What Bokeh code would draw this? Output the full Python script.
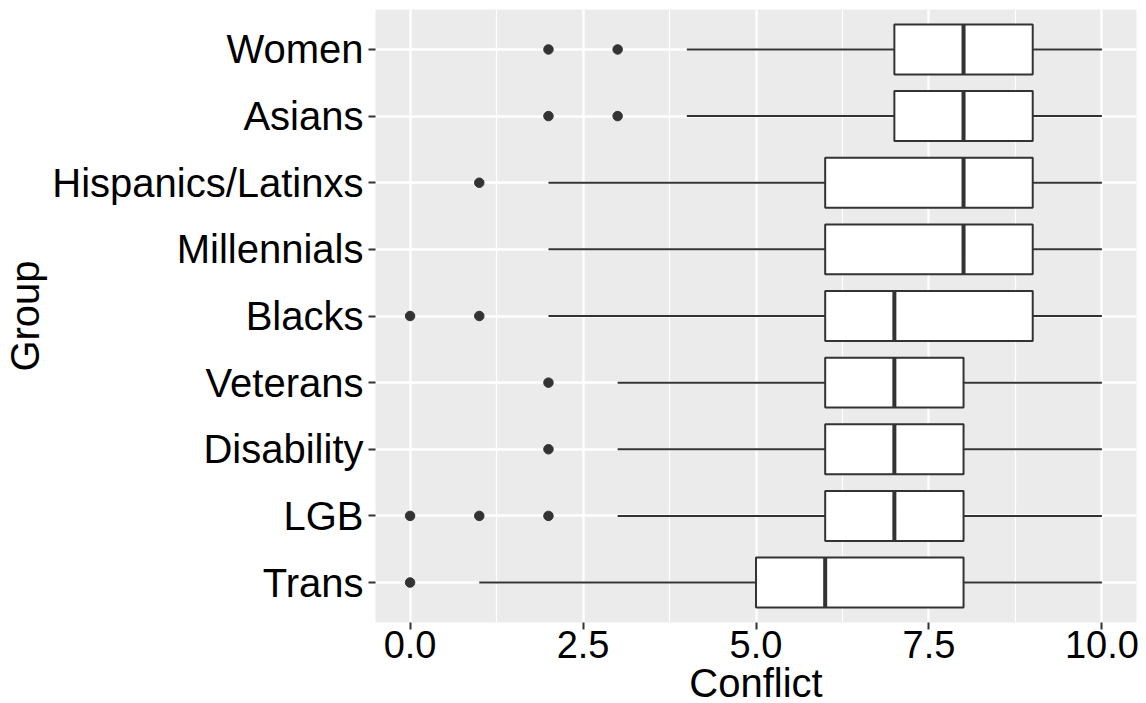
from bokeh.plotting import figure
from bokeh.models import FixedTicker, PrintfTickFormatter, Range1d
from bokeh.embed import file_html
from bokeh.resources import INLINE

# ---- data (top to bottom order of the reference) ----
groups = ["Women", "Asians", "Hispanics/Latinxs", "Millennials", "Blacks",
          "Veterans", "Disability", "LGB", "Trans"]
whisker_low = [4, 4, 2, 2, 2, 3, 3, 3, 1]
q1 = [7, 7, 6, 6, 6, 6, 6, 6, 5]
median = [8, 8, 8, 8, 7, 7, 7, 7, 6]
q3 = [9, 9, 9, 9, 9, 8, 8, 8, 8]
whisker_high = [10, 10, 10, 10, 10, 10, 10, 10, 10]
outlier_groups = ["Women", "Women", "Asians", "Asians", "Hispanics/Latinxs",
                  "Blacks", "Blacks", "Veterans", "Disability",
                  "LGB", "LGB", "LGB", "Trans"]
outlier_values = [2, 3, 2, 3, 1, 0, 1, 2, 2, 0, 1, 2, 0]
x_ticks = [0, 2.5, 5, 7.5, 10]
x_minor = [1.25, 3.75, 6.25, 8.75]

n = len(groups)
pos = {g: n - i for i, g in enumerate(groups)}  # Women on top
ys = [pos[g] for g in groups]
box_h = 0.75

FONT = "Liberation Sans"
DARK = "#333333"

p = figure(frame_width=761, frame_height=613,
           x_range=Range1d(-0.5, 10.5), y_range=Range1d(0.4, n + 0.6),
           output_backend="svg", toolbar_location=None,
           min_border_left=368, min_border_top=9, min_border_right=4,
           min_border_bottom=70)
p.background_fill_color = "#EBEBEB"
p.border_fill_color = "white"
p.outline_line_color = None

# grid
p.xgrid.ticker = FixedTicker(ticks=x_ticks, minor_ticks=x_minor)
p.xgrid.grid_line_color = "white"
p.xgrid.grid_line_width = 2.4
p.xgrid.minor_grid_line_color = "white"
p.xgrid.minor_grid_line_width = 1.2
p.ygrid.ticker = FixedTicker(ticks=ys)
p.ygrid.grid_line_color = "white"
p.ygrid.grid_line_width = 2.4

# axes
p.xaxis.ticker = FixedTicker(ticks=x_ticks)
p.xaxis.formatter = PrintfTickFormatter(format="%.1f")
p.yaxis.ticker = FixedTicker(ticks=ys)
p.yaxis.major_label_overrides = {pos[g]: g for g in groups}
for ax in (p.xaxis[0], p.yaxis[0]):
    ax.axis_line_color = None
    ax.major_tick_line_color = DARK
    ax.major_tick_line_width = 2
    ax.major_tick_out = 7
    ax.major_tick_in = 0
    ax.minor_tick_line_color = None
    ax.major_label_text_font = FONT
    ax.major_label_text_color = "black"
    ax.axis_label_text_font = FONT
    ax.axis_label_text_font_style = "normal"
    ax.axis_label_text_color = "black"
    ax.axis_label_text_font_size = "40px"
p.xaxis.major_label_text_font_size = "38px"
p.yaxis.major_label_text_font_size = "40px"
p.xaxis.major_label_standoff = 1
p.yaxis.major_label_standoff = 5
p.xaxis.axis_label = "Conflict"
p.yaxis.axis_label = "Group"
p.xaxis.axis_label_standoff = 0
p.yaxis.axis_label_standoff = 2

# whiskers
p.segment(x0=whisker_low, y0=ys, x1=q1, y1=ys, line_color=DARK, line_width=2)
p.segment(x0=q3, y0=ys, x1=whisker_high, y1=ys, line_color=DARK, line_width=2)
# boxes
p.hbar(y=ys, left=q1, right=q3, height=box_h, fill_color="white",
       line_color=DARK, line_width=2)
# medians
p.segment(x0=median, y0=[y - box_h / 2 for y in ys], x1=median,
          y1=[y + box_h / 2 for y in ys], line_color=DARK, line_width=4)
# outliers
p.scatter(x=outlier_values, y=[pos[g] for g in outlier_groups], size=9.5,
          fill_color=DARK, line_color=DARK)

open("out.html", "w").write(file_html(p, INLINE))
